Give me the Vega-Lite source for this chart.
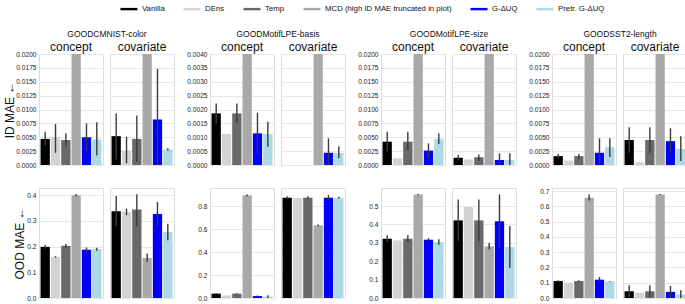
{
"$schema": "https://vega.github.io/schema/vega-lite/v6.json",
"padding": {"left": 3, "top": -1, "right": 0, "bottom": 0},
"background": "white",
"config": {
 "font": "Liberation Sans",
 "view": {"stroke": "#dcdcdc", "strokeWidth": 1},
 "axis": {"grid": true, "gridColor": "#e8e8e8", "gridWidth": 1, "domain": false, "ticks": false, "labelFontSize": 6.6, "labelPadding": 2, "labelOverlap": false, "labelColor": "#222", "titleFontSize": 12, "titleFontWeight": "normal", "titlePadding": 0, "titleColor": "#111"},
 "header": {"labelFontSize": 12, "labelPadding": -1, "titleFontSize": 8.5, "titleFontWeight": "normal", "titlePadding": -7, "labelColor": "#111", "titleColor": "#111"},
 "legend": {"orient": "none", "legendX": 80, "legendY": -55, "direction": "horizontal", "columns": 6, "symbolType": "stroke", "symbolSize": 290, "symbolStrokeWidth": 2.4, "labelFontSize": 7.8, "labelOffset": 3, "columnPadding": 13, "labelColor": "#111"}
},
"datasets": {"all": [
{"d":"CMNIST","m":"ID","s":"concept","k":"Vanilla","v":0.0047,"lo":0.0035,"hi":0.006},
{"d":"CMNIST","m":"ID","s":"concept","k":"DEns","v":0.005,"lo":0.0022,"hi":0.0074},
{"d":"CMNIST","m":"ID","s":"concept","k":"Temp","v":0.0045,"lo":0.0033,"hi":0.0057},
{"d":"CMNIST","m":"ID","s":"concept","k":"MCD (high ID MAE truncated in plot)","v":0.05},
{"d":"CMNIST","m":"ID","s":"concept","k":"G-ΔUQ","v":0.005,"lo":0.0026,"hi":0.0075},
{"d":"CMNIST","m":"ID","s":"concept","k":"Pretr. G-ΔUQ","v":0.0046,"lo":0.0017,"hi":0.0077},
{"d":"CMNIST","m":"ID","s":"covariate","k":"Vanilla","v":0.0052,"lo":0.001,"hi":0.0093},
{"d":"CMNIST","m":"ID","s":"covariate","k":"DEns","v":0.0026,"lo":0.0003,"hi":0.0051},
{"d":"CMNIST","m":"ID","s":"covariate","k":"Temp","v":0.0047,"lo":0.0006,"hi":0.0089},
{"d":"CMNIST","m":"ID","s":"covariate","k":"MCD (high ID MAE truncated in plot)","v":0.05},
{"d":"CMNIST","m":"ID","s":"covariate","k":"G-ΔUQ","v":0.0082,"lo":0.0,"hi":0.0173},
{"d":"CMNIST","m":"ID","s":"covariate","k":"Pretr. G-ΔUQ","v":0.0028,"lo":0.0026,"hi":0.003},
{"d":"Basis","m":"ID","s":"concept","k":"Vanilla","v":0.00186,"lo":0.0015,"hi":0.00222},
{"d":"Basis","m":"ID","s":"concept","k":"DEns","v":0.00112},
{"d":"Basis","m":"ID","s":"concept","k":"Temp","v":0.00186,"lo":0.00152,"hi":0.00222},
{"d":"Basis","m":"ID","s":"concept","k":"MCD (high ID MAE truncated in plot)","v":0.01},
{"d":"Basis","m":"ID","s":"concept","k":"G-ΔUQ","v":0.00114,"lo":0.00042,"hi":0.00188},
{"d":"Basis","m":"ID","s":"concept","k":"Pretr. G-ΔUQ","v":0.00112,"lo":0.00066,"hi":0.00156},
{"d":"Basis","m":"ID","s":"covariate","k":"Vanilla","v":0},
{"d":"Basis","m":"ID","s":"covariate","k":"DEns","v":0},
{"d":"Basis","m":"ID","s":"covariate","k":"Temp","v":0},
{"d":"Basis","m":"ID","s":"covariate","k":"MCD (high ID MAE truncated in plot)","v":0.01},
{"d":"Basis","m":"ID","s":"covariate","k":"G-ΔUQ","v":0.00044,"lo":0.0,"hi":0.00096},
{"d":"Basis","m":"ID","s":"covariate","k":"Pretr. G-ΔUQ","v":0.00044,"lo":0.00024,"hi":0.00068},
{"d":"Size","m":"ID","s":"concept","k":"Vanilla","v":0.0042,"lo":0.0025,"hi":0.006},
{"d":"Size","m":"ID","s":"concept","k":"DEns","v":0.0012},
{"d":"Size","m":"ID","s":"concept","k":"Temp","v":0.0042,"lo":0.0027,"hi":0.006},
{"d":"Size","m":"ID","s":"concept","k":"MCD (high ID MAE truncated in plot)","v":0.05},
{"d":"Size","m":"ID","s":"concept","k":"G-ΔUQ","v":0.0026,"lo":0.0012,"hi":0.0039},
{"d":"Size","m":"ID","s":"concept","k":"Pretr. G-ΔUQ","v":0.0047,"lo":0.0038,"hi":0.0057},
{"d":"Size","m":"ID","s":"covariate","k":"Vanilla","v":0.0013,"lo":0.0008,"hi":0.0018},
{"d":"Size","m":"ID","s":"covariate","k":"DEns","v":0.001},
{"d":"Size","m":"ID","s":"covariate","k":"Temp","v":0.0014,"lo":0.0007,"hi":0.0019},
{"d":"Size","m":"ID","s":"covariate","k":"MCD (high ID MAE truncated in plot)","v":0.05},
{"d":"Size","m":"ID","s":"covariate","k":"G-ΔUQ","v":0.0009,"lo":0.0,"hi":0.0021},
{"d":"Size","m":"ID","s":"covariate","k":"Pretr. G-ΔUQ","v":0.0009,"lo":0.0,"hi":0.0021},
{"d":"SST2","m":"ID","s":"concept","k":"Vanilla","v":0.0016,"lo":0.0012,"hi":0.002},
{"d":"SST2","m":"ID","s":"concept","k":"DEns","v":0.0008},
{"d":"SST2","m":"ID","s":"concept","k":"Temp","v":0.0016,"lo":0.0011,"hi":0.002},
{"d":"SST2","m":"ID","s":"concept","k":"MCD (high ID MAE truncated in plot)","v":0.05},
{"d":"SST2","m":"ID","s":"concept","k":"G-ΔUQ","v":0.0022,"lo":0.0002,"hi":0.0048},
{"d":"SST2","m":"ID","s":"concept","k":"Pretr. G-ΔUQ","v":0.0032,"lo":0.0015,"hi":0.0048},
{"d":"SST2","m":"ID","s":"covariate","k":"Vanilla","v":0.0045,"lo":0.0022,"hi":0.0068},
{"d":"SST2","m":"ID","s":"covariate","k":"DEns","v":0.0005},
{"d":"SST2","m":"ID","s":"covariate","k":"Temp","v":0.0045,"lo":0.0022,"hi":0.0068},
{"d":"SST2","m":"ID","s":"covariate","k":"MCD (high ID MAE truncated in plot)","v":0.05},
{"d":"SST2","m":"ID","s":"covariate","k":"G-ΔUQ","v":0.0043,"lo":0.0022,"hi":0.0066},
{"d":"SST2","m":"ID","s":"covariate","k":"Pretr. G-ΔUQ","v":0.0029,"lo":0.0007,"hi":0.0052},
{"d":"CMNIST","m":"OOD","s":"concept","k":"Vanilla","v":0.199,"lo":0.192,"hi":0.207},
{"d":"CMNIST","m":"OOD","s":"concept","k":"DEns","v":0.16,"lo":0.157,"hi":0.163},
{"d":"CMNIST","m":"OOD","s":"concept","k":"Temp","v":0.203,"lo":0.195,"hi":0.21},
{"d":"CMNIST","m":"OOD","s":"concept","k":"MCD (high ID MAE truncated in plot)","v":0.4,"lo":0.396,"hi":0.405},
{"d":"CMNIST","m":"OOD","s":"concept","k":"G-ΔUQ","v":0.188,"lo":0.18,"hi":0.197},
{"d":"CMNIST","m":"OOD","s":"concept","k":"Pretr. G-ΔUQ","v":0.19,"lo":0.184,"hi":0.196},
{"d":"CMNIST","m":"OOD","s":"covariate","k":"Vanilla","v":0.338,"lo":0.28,"hi":0.397},
{"d":"CMNIST","m":"OOD","s":"covariate","k":"DEns","v":0.335,"lo":0.322,"hi":0.348},
{"d":"CMNIST","m":"OOD","s":"covariate","k":"Temp","v":0.344,"lo":0.28,"hi":0.404},
{"d":"CMNIST","m":"OOD","s":"covariate","k":"MCD (high ID MAE truncated in plot)","v":0.156,"lo":0.14,"hi":0.173},
{"d":"CMNIST","m":"OOD","s":"covariate","k":"G-ΔUQ","v":0.327,"lo":0.28,"hi":0.374},
{"d":"CMNIST","m":"OOD","s":"covariate","k":"Pretr. G-ΔUQ","v":0.257,"lo":0.225,"hi":0.289},
{"d":"Basis","m":"OOD","s":"concept","k":"Vanilla","v":0.038,"lo":0.035,"hi":0.041},
{"d":"Basis","m":"OOD","s":"concept","k":"DEns","v":0.023},
{"d":"Basis","m":"OOD","s":"concept","k":"Temp","v":0.038,"lo":0.035,"hi":0.041},
{"d":"Basis","m":"OOD","s":"concept","k":"MCD (high ID MAE truncated in plot)","v":0.893,"lo":0.885,"hi":0.9},
{"d":"Basis","m":"OOD","s":"concept","k":"G-ΔUQ","v":0.017,"lo":0.012,"hi":0.022},
{"d":"Basis","m":"OOD","s":"concept","k":"Pretr. G-ΔUQ","v":0.012,"lo":0.0,"hi":0.025},
{"d":"Basis","m":"OOD","s":"covariate","k":"Vanilla","v":0.872,"lo":0.86,"hi":0.885},
{"d":"Basis","m":"OOD","s":"covariate","k":"DEns","v":0.87},
{"d":"Basis","m":"OOD","s":"covariate","k":"Temp","v":0.872,"lo":0.86,"hi":0.885},
{"d":"Basis","m":"OOD","s":"covariate","k":"MCD (high ID MAE truncated in plot)","v":0.632,"lo":0.625,"hi":0.64},
{"d":"Basis","m":"OOD","s":"covariate","k":"G-ΔUQ","v":0.872,"lo":0.85,"hi":0.895},
{"d":"Basis","m":"OOD","s":"covariate","k":"Pretr. G-ΔUQ","v":0.872,"lo":0.865,"hi":0.88},
{"d":"Size","m":"OOD","s":"concept","k":"Vanilla","v":0.322,"lo":0.305,"hi":0.341},
{"d":"Size","m":"OOD","s":"concept","k":"DEns","v":0.313},
{"d":"Size","m":"OOD","s":"concept","k":"Temp","v":0.322,"lo":0.305,"hi":0.341},
{"d":"Size","m":"OOD","s":"concept","k":"MCD (high ID MAE truncated in plot)","v":0.563,"lo":0.56,"hi":0.566},
{"d":"Size","m":"OOD","s":"concept","k":"G-ΔUQ","v":0.317,"lo":0.31,"hi":0.325},
{"d":"Size","m":"OOD","s":"concept","k":"Pretr. G-ΔUQ","v":0.304,"lo":0.29,"hi":0.32},
{"d":"Size","m":"OOD","s":"covariate","k":"Vanilla","v":0.422,"lo":0.31,"hi":0.536},
{"d":"Size","m":"OOD","s":"covariate","k":"DEns","v":0.495},
{"d":"Size","m":"OOD","s":"covariate","k":"Temp","v":0.422,"lo":0.308,"hi":0.536},
{"d":"Size","m":"OOD","s":"covariate","k":"MCD (high ID MAE truncated in plot)","v":0.281,"lo":0.265,"hi":0.3},
{"d":"Size","m":"OOD","s":"covariate","k":"G-ΔUQ","v":0.417,"lo":0.268,"hi":0.563},
{"d":"Size","m":"OOD","s":"covariate","k":"Pretr. G-ΔUQ","v":0.277,"lo":0.163,"hi":0.391},
{"d":"SST2","m":"OOD","s":"concept","k":"Vanilla","v":0.111,"lo":0.106,"hi":0.117},
{"d":"SST2","m":"OOD","s":"concept","k":"DEns","v":0.1},
{"d":"SST2","m":"OOD","s":"concept","k":"Temp","v":0.111,"lo":0.107,"hi":0.116},
{"d":"SST2","m":"OOD","s":"concept","k":"MCD (high ID MAE truncated in plot)","v":0.656,"lo":0.639,"hi":0.678},
{"d":"SST2","m":"OOD","s":"concept","k":"G-ΔUQ","v":0.12,"lo":0.11,"hi":0.137},
{"d":"SST2","m":"OOD","s":"concept","k":"Pretr. G-ΔUQ","v":0.109,"lo":0.106,"hi":0.112},
{"d":"SST2","m":"OOD","s":"covariate","k":"Vanilla","v":0.044,"lo":0.005,"hi":0.083},
{"d":"SST2","m":"OOD","s":"covariate","k":"DEns","v":0.035},
{"d":"SST2","m":"OOD","s":"covariate","k":"Temp","v":0.044,"lo":0.005,"hi":0.083},
{"d":"SST2","m":"OOD","s":"covariate","k":"MCD (high ID MAE truncated in plot)","v":0.678,"lo":0.675,"hi":0.681},
{"d":"SST2","m":"OOD","s":"covariate","k":"G-ΔUQ","v":0.04,"lo":0.0,"hi":0.079},
{"d":"SST2","m":"OOD","s":"covariate","k":"Pretr. G-ΔUQ","v":0.022,"lo":0.0,"hi":0.05}
]},
"columns": 4,
"spacing": {"row": 18, "column": 11},
"concat": [
  {"data": {"name": "all"}, "transform": [{"filter": "datum.d == 'CMNIST' && datum.m == 'ID'"}],
   "facet": {"column": {"field": "s", "type": "nominal", "sort": ["concept", "covariate"], "title": "GOODCMNIST-color"}}, "spacing": 5,
   "spec": {"width": 64, "height": 111, "layer": [
    {"mark": {"type": "bar", "clip": true}, "encoding": {
      "x": {"field": "k", "type": "nominal", "sort": null, "axis": null, "scale": {"paddingInner": 0.1, "paddingOuter": 0.15}},
      "y": {"field": "v", "type": "quantitative", "title": "ID MAE ←", "scale": {"domain": [0, 0.02], "nice": false}, "axis": {"values": [0, 0.0025, 0.005, 0.0075, 0.01, 0.0125, 0.015, 0.0175, 0.02], "tickCount": 30, "format": ".4f", "labelOverlap": false, "titlePadding": -1}},
      "color": {"field": "k", "type": "nominal", "title": null, "scale": {"domain": ["Vanilla", "DEns", "Temp", "MCD (high ID MAE truncated in plot)", "G-ΔUQ", "Pretr. G-ΔUQ"], "range": ["#000000", "#d3d3d3", "#696969", "#a9a9a9", "#0000ff", "#add8e6"]},
        "legend": {"encode": {"symbols": {"update": {"stroke": {"scale": "color", "field": "value"}, "strokeWidth": {"value": 2.4}}}}}}}},
    {"mark": {"type": "rule", "clip": true, "color": "#3a3a3a", "strokeWidth": 1.4}, "encoding": {
      "x": {"field": "k", "type": "nominal", "sort": null},
      "y": {"field": "lo", "type": "quantitative", "title": "ID MAE ←"}, "y2": {"field": "hi"}}}]}},
  {"data": {"name": "all"}, "transform": [{"filter": "datum.d == 'Basis' && datum.m == 'ID'"}],
   "facet": {"column": {"field": "s", "type": "nominal", "sort": ["concept", "covariate"], "title": "GOODMotifLPE-basis"}}, "spacing": 5,
   "spec": {"width": 64, "height": 111, "layer": [
    {"mark": {"type": "bar", "clip": true}, "encoding": {
      "x": {"field": "k", "type": "nominal", "sort": null, "axis": null, "scale": {"paddingInner": 0.1, "paddingOuter": 0.15}},
      "y": {"field": "v", "type": "quantitative", "title": null, "scale": {"domain": [0, 0.004], "nice": false}, "axis": {"values": [0, 0.0005, 0.001, 0.0015, 0.002, 0.0025, 0.003, 0.0035, 0.004], "tickCount": 30, "format": ".4f", "labelOverlap": false}},
      "color": {"field": "k", "type": "nominal", "legend": null}}},
    {"mark": {"type": "rule", "clip": true, "color": "#3a3a3a", "strokeWidth": 1.4}, "encoding": {
      "x": {"field": "k", "type": "nominal", "sort": null},
      "y": {"field": "lo", "type": "quantitative", "title": null}, "y2": {"field": "hi"}}}]}},
  {"data": {"name": "all"}, "transform": [{"filter": "datum.d == 'Size' && datum.m == 'ID'"}],
   "facet": {"column": {"field": "s", "type": "nominal", "sort": ["concept", "covariate"], "title": "GOODMotifLPE-size"}}, "spacing": 5,
   "spec": {"width": 64, "height": 111, "layer": [
    {"mark": {"type": "bar", "clip": true}, "encoding": {
      "x": {"field": "k", "type": "nominal", "sort": null, "axis": null, "scale": {"paddingInner": 0.1, "paddingOuter": 0.15}},
      "y": {"field": "v", "type": "quantitative", "title": null, "scale": {"domain": [0, 0.02], "nice": false}, "axis": {"values": [0, 0.0025, 0.005, 0.0075, 0.01, 0.0125, 0.015, 0.0175, 0.02], "tickCount": 30, "format": ".4f", "labelOverlap": false}},
      "color": {"field": "k", "type": "nominal", "legend": null}}},
    {"mark": {"type": "rule", "clip": true, "color": "#3a3a3a", "strokeWidth": 1.4}, "encoding": {
      "x": {"field": "k", "type": "nominal", "sort": null},
      "y": {"field": "lo", "type": "quantitative", "title": null}, "y2": {"field": "hi"}}}]}},
  {"data": {"name": "all"}, "transform": [{"filter": "datum.d == 'SST2' && datum.m == 'ID'"}],
   "facet": {"column": {"field": "s", "type": "nominal", "sort": ["concept", "covariate"], "title": "GOODSST2-length"}}, "spacing": 5,
   "spec": {"width": 64, "height": 111, "layer": [
    {"mark": {"type": "bar", "clip": true}, "encoding": {
      "x": {"field": "k", "type": "nominal", "sort": null, "axis": null, "scale": {"paddingInner": 0.1, "paddingOuter": 0.15}},
      "y": {"field": "v", "type": "quantitative", "title": null, "scale": {"domain": [0, 0.02], "nice": false}, "axis": {"values": [0, 0.0025, 0.005, 0.0075, 0.01, 0.0125, 0.015, 0.0175, 0.02], "tickCount": 30, "format": ".4f", "labelOverlap": false}},
      "color": {"field": "k", "type": "nominal", "legend": null}}},
    {"mark": {"type": "rule", "clip": true, "color": "#3a3a3a", "strokeWidth": 1.4}, "encoding": {
      "x": {"field": "k", "type": "nominal", "sort": null},
      "y": {"field": "lo", "type": "quantitative", "title": null}, "y2": {"field": "hi"}}}]}},
  {"data": {"name": "all"}, "transform": [{"filter": "datum.d == 'CMNIST' && datum.m == 'OOD'"}],
   "facet": {"column": {"field": "s", "type": "nominal", "sort": ["concept", "covariate"], "title": null, "header": {"labels": false}}}, "spacing": 5,
   "spec": {"width": 64, "height": 110, "layer": [
    {"mark": {"type": "bar", "clip": true}, "encoding": {
      "x": {"field": "k", "type": "nominal", "sort": null, "axis": null, "scale": {"paddingInner": 0.1, "paddingOuter": 0.15}},
      "y": {"field": "v", "type": "quantitative", "title": "OOD MAE ←", "scale": {"domain": [0, 0.428], "nice": false}, "axis": {"values": [0, 0.1, 0.2, 0.3, 0.4], "tickCount": 30, "format": ".1f", "labelOverlap": false, "titlePadding": 0}},
      "color": {"field": "k", "type": "nominal", "legend": null}}},
    {"mark": {"type": "rule", "clip": true, "color": "#3a3a3a", "strokeWidth": 1.4}, "encoding": {
      "x": {"field": "k", "type": "nominal", "sort": null},
      "y": {"field": "lo", "type": "quantitative", "title": "OOD MAE ←"}, "y2": {"field": "hi"}}}]}},
  {"data": {"name": "all"}, "transform": [{"filter": "datum.d == 'Basis' && datum.m == 'OOD'"}],
   "facet": {"column": {"field": "s", "type": "nominal", "sort": ["concept", "covariate"], "title": null, "header": {"labels": false}}}, "spacing": 5,
   "spec": {"width": 64, "height": 110, "layer": [
    {"mark": {"type": "bar", "clip": true}, "encoding": {
      "x": {"field": "k", "type": "nominal", "sort": null, "axis": null, "scale": {"paddingInner": 0.1, "paddingOuter": 0.15}},
      "y": {"field": "v", "type": "quantitative", "title": null, "scale": {"domain": [0, 0.957], "nice": false}, "axis": {"values": [0, 0.2, 0.4, 0.6, 0.8], "tickCount": 30, "format": ".1f", "labelOverlap": false}},
      "color": {"field": "k", "type": "nominal", "legend": null}}},
    {"mark": {"type": "rule", "clip": true, "color": "#3a3a3a", "strokeWidth": 1.4}, "encoding": {
      "x": {"field": "k", "type": "nominal", "sort": null},
      "y": {"field": "lo", "type": "quantitative", "title": null}, "y2": {"field": "hi"}}}]}},
  {"data": {"name": "all"}, "transform": [{"filter": "datum.d == 'Size' && datum.m == 'OOD'"}],
   "facet": {"column": {"field": "s", "type": "nominal", "sort": ["concept", "covariate"], "title": null, "header": {"labels": false}}}, "spacing": 5,
   "spec": {"width": 64, "height": 110, "layer": [
    {"mark": {"type": "bar", "clip": true}, "encoding": {
      "x": {"field": "k", "type": "nominal", "sort": null, "axis": null, "scale": {"paddingInner": 0.1, "paddingOuter": 0.15}},
      "y": {"field": "v", "type": "quantitative", "title": null, "scale": {"domain": [0, 0.598], "nice": false}, "axis": {"values": [0, 0.1, 0.2, 0.3, 0.4, 0.5], "tickCount": 30, "format": ".1f", "labelOverlap": false}},
      "color": {"field": "k", "type": "nominal", "legend": null}}},
    {"mark": {"type": "rule", "clip": true, "color": "#3a3a3a", "strokeWidth": 1.4}, "encoding": {
      "x": {"field": "k", "type": "nominal", "sort": null},
      "y": {"field": "lo", "type": "quantitative", "title": null}, "y2": {"field": "hi"}}}]}},
  {"data": {"name": "all"}, "transform": [{"filter": "datum.d == 'SST2' && datum.m == 'OOD'"}],
   "facet": {"column": {"field": "s", "type": "nominal", "sort": ["concept", "covariate"], "title": null, "header": {"labels": false}}}, "spacing": 5,
   "spec": {"width": 64, "height": 110, "layer": [
    {"mark": {"type": "bar", "clip": true}, "encoding": {
      "x": {"field": "k", "type": "nominal", "sort": null, "axis": null, "scale": {"paddingInner": 0.1, "paddingOuter": 0.15}},
      "y": {"field": "v", "type": "quantitative", "title": null, "scale": {"domain": [0, 0.72], "nice": false}, "axis": {"values": [0, 0.1, 0.2, 0.3, 0.4, 0.5, 0.6, 0.7], "tickCount": 30, "format": ".1f", "labelOverlap": false}},
      "color": {"field": "k", "type": "nominal", "legend": null}}},
    {"mark": {"type": "rule", "clip": true, "color": "#3a3a3a", "strokeWidth": 1.4}, "encoding": {
      "x": {"field": "k", "type": "nominal", "sort": null},
      "y": {"field": "lo", "type": "quantitative", "title": null}, "y2": {"field": "hi"}}}]}}
]
}
